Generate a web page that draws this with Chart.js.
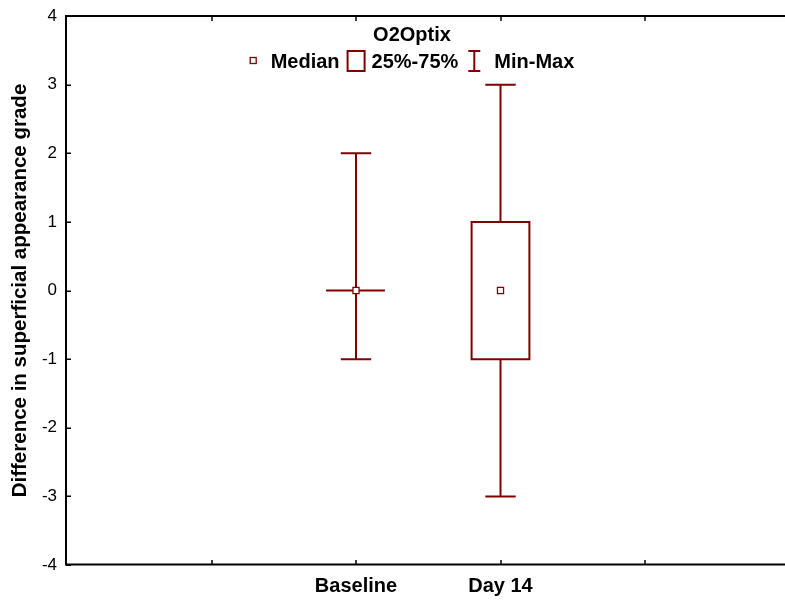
<!DOCTYPE html>
<html>
<head>
<meta charset="utf-8">
<title>O2Optix</title>
<script src="https://cdn.jsdelivr.net/npm/chart.js@4/dist/chart.umd.min.js"></script>
<style>
  html, body { margin: 0; padding: 0; background: #fff; overflow: hidden; }
  #wrap { width: 785px; height: 601px; overflow: hidden; position: relative; }
  canvas { display: block; }
</style>
</head>
<body>
<div id="wrap"><canvas id="chart" width="800" height="601"></canvas></div>
<script>
// ---- data ----
const categories   = ['Baseline', 'Day 14'];
const minValues    = [-1, -3];
const q1Values     = [0, -1];
const medianValues = [0, 0];
const q3Values     = [0, 1];
const maxValues    = [2, 3];
const yTickValues  = [-4, -3, -2, -1, 0, 1, 2, 3, 4];
const xSlots       = [0, 1, 2, 3, 4, 5];
const legendTitle  = 'O2Optix';
const legendLabels = ['Median', '25%-75%', 'Min-Max'];
const yAxisTitle   = 'Difference in superficial appearance grade';

// ---- styling ----
const DARK_RED = 'rgb(128,0,0)';
const FONT = '"Liberation Sans", Arial, Helvetica, sans-serif';
const FIRST_SLOT = 2;      // categories sit on slots 2 and 3 of the axis
const BOX_HALF = 0.2;      // half width of the box, in slot units
const CAP_HALF = 0.105;    // half width of the whisker caps

const slotOf = i => FIRST_SLOT + i;

// Build paths for boxes, whiskers and medians from the summary arrays.
const boxData = [];
const whiskerData = [];
const medianData = [];
categories.forEach((name, i) => {
  const x = slotOf(i);
  const lo = q1Values[i], hi = q3Values[i];
  boxData.push(
    { x: x - BOX_HALF, y: lo }, { x: x - BOX_HALF, y: hi },
    { x: x + BOX_HALF, y: hi }, { x: x + BOX_HALF, y: lo },
    { x: x - BOX_HALF, y: lo }, { x: x, y: null }
  );
  whiskerData.push(
    { x: x, y: hi }, { x: x, y: maxValues[i] }, { x: x, y: null },
    { x: x - CAP_HALF, y: maxValues[i] }, { x: x + CAP_HALF, y: maxValues[i] }, { x: x, y: null },
    { x: x, y: lo }, { x: x, y: minValues[i] }, { x: x, y: null },
    { x: x - CAP_HALF, y: minValues[i] }, { x: x + CAP_HALF, y: minValues[i] }, { x: x, y: null }
  );
  medianData.push({ x: x, y: medianValues[i] });
});

// Frame (left, top, bottom) with inward tick marks.
const framePlugin = {
  id: 'frame',
  afterDatasetsDraw(chart) {
    const { ctx, chartArea: a, scales } = chart;
    ctx.save();
    ctx.strokeStyle = '#000';
    ctx.lineWidth = 2;
    ctx.beginPath();
    ctx.moveTo(a.left - 1, a.top);
    ctx.lineTo(a.left - 1, a.bottom - 0.5);
    ctx.moveTo(a.left - 2, a.top);
    ctx.lineTo(a.right + 20, a.top);
    ctx.moveTo(a.left - 2, a.bottom - 0.5);
    ctx.lineTo(a.right + 20, a.bottom - 0.5);
    ctx.stroke();
    ctx.lineWidth = 1.5;
    ctx.beginPath();
    yTickValues.forEach(v => {
      const y = Math.round(scales.y.getPixelForValue(v)) + 0.25;
      ctx.moveTo(a.left - 1, y);
      ctx.lineTo(a.left + 4, y);
    });
    xSlots.forEach(v => {
      if (v === 0 || v === 5) return;
      const x = Math.round(scales.x.getPixelForValue(v));
      ctx.moveTo(x, a.top);
      ctx.lineTo(x, a.top + 5);
      ctx.moveTo(x, a.bottom);
      ctx.lineTo(x, a.bottom - 5);
    });
    ctx.stroke();
    ctx.restore();
  }
};

// Legend block inside the plot: title plus three keyed entries.
const legendPlugin = {
  id: 'boxLegend',
  afterDraw(chart) {
    const { ctx } = chart;
    const cx = 412;
    const titleY = 35;
    const rowY = 61;
    ctx.save();
    ctx.font = 'bold 20px ' + FONT;
    ctx.fillStyle = '#000';
    ctx.textBaseline = 'middle';
    ctx.textAlign = 'center';
    ctx.fillText(legendTitle, cx, titleY);

    const w = legendLabels.map(t => ctx.measureText(t).width);
    const parts = [7, 14, w[0], 7, 18, 7, w[1], 10, 12, 14, w[2]];
    const total = parts.reduce((s, p) => s + p, 0);
    let x = cx - total / 2;

    ctx.textAlign = 'left';
    ctx.strokeStyle = DARK_RED;

    // median key
    ctx.lineWidth = 1.3;
    ctx.fillStyle = '#fff';
    ctx.fillRect(x + 0.5, rowY - 3.5, 6, 6);
    ctx.strokeRect(x + 0.5, rowY - 3.5, 6, 6);
    x += parts[0] + parts[1];
    ctx.fillStyle = '#000';
    ctx.fillText(legendLabels[0], x, rowY + 1);
    x += parts[2] + parts[3];

    // box key
    ctx.lineWidth = 2;
    ctx.strokeRect(x + 1, rowY - 10, 17, 20);
    x += parts[4] + parts[5];
    ctx.fillText(legendLabels[1], x, rowY + 1);
    x += parts[6] + parts[7];

    // whisker key
    ctx.beginPath();
    ctx.moveTo(x + 6, rowY - 10);
    ctx.lineTo(x + 6, rowY + 10);
    ctx.moveTo(x, rowY - 10);
    ctx.lineTo(x + 12, rowY - 10);
    ctx.moveTo(x, rowY + 10);
    ctx.lineTo(x + 12, rowY + 10);
    ctx.stroke();
    x += parts[8] + parts[9];
    ctx.fillText(legendLabels[2], x, rowY + 1);
    ctx.restore();
  }
};

new Chart(document.getElementById('chart'), {
  type: 'scatter',
  data: {
    datasets: [
      {
        label: legendLabels[0],
        data: medianData,
        pointStyle: 'rect',
        pointRadius: 4.3,
        pointBorderWidth: 1.3,
        pointBackgroundColor: '#fff',
        pointBorderColor: DARK_RED,
        showLine: false
      },
      {
        label: legendLabels[2],
        data: whiskerData,
        showLine: true,
        spanGaps: false,
        pointRadius: 0,
        borderColor: DARK_RED,
        borderWidth: 2,
        borderCapStyle: 'butt'
      },
      {
        label: legendLabels[1],
        data: boxData,
        showLine: true,
        spanGaps: false,
        pointRadius: 0,
        borderColor: DARK_RED,
        borderWidth: 2,
        borderCapStyle: 'square',
        borderJoinStyle: 'miter'
      }
    ]
  },
  options: {
    responsive: false,
    animation: false,
    devicePixelRatio: 1,
    layout: { padding: { top: 16, right: 10.5, left: 0, bottom: 0 } },
    plugins: {
      legend: { display: false },
      tooltip: { enabled: false },
      title: { display: false }
    },
    scales: {
      x: {
        type: 'linear',
        min: 0,
        max: 5,
        afterBuildTicks: s => { s.ticks = xSlots.map(v => ({ value: v })); },
        afterFit: s => { s.height = 36; s.paddingLeft = 0; s.paddingRight = 0; },
        grid: { display: false, drawTicks: false },
        border: { display: false },
        ticks: {
          autoSkip: false,
          maxRotation: 0,
          padding: 9,
          color: '#000',
          font: { family: FONT, size: 20, weight: 'bold' },
          callback: v => categories[v - FIRST_SLOT] ?? ''
        }
      },
      y: {
        type: 'linear',
        min: -4,
        max: 4,
        afterBuildTicks: s => { s.ticks = yTickValues.map(v => ({ value: v })); },
        afterFit: s => { s.width = 67; s.paddingTop = 0; s.paddingBottom = 0; },
        grid: { display: false, drawTicks: false },
        border: { display: false },
        ticks: {
          padding: 10,
          color: '#000',
          font: { family: FONT, size: 17 }
        },
        title: {
          display: true,
          text: yAxisTitle,
          color: '#000',
          padding: { top: 8, bottom: 0 },
          font: { family: FONT, size: 20.5, weight: 'bold' }
        }
      }
    }
  },
  plugins: [framePlugin, legendPlugin]
});
</script>
</body>
</html>
